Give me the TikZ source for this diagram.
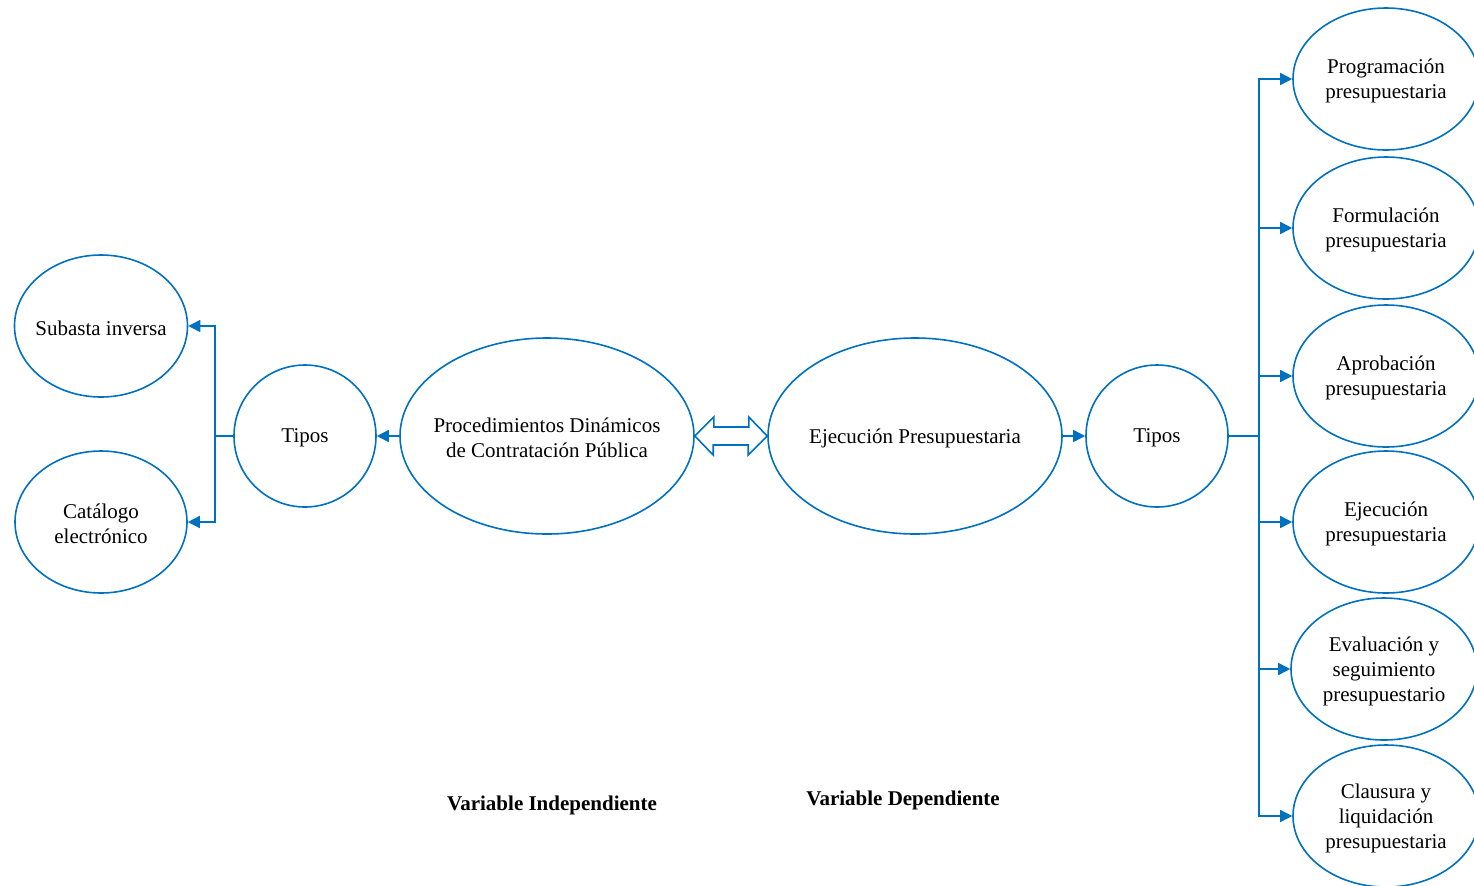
\documentclass[tikz,border=0pt]{standalone}
\usepackage{fontspec}
\setmainfont{Liberation Serif}
\usepackage{tikz}
\usetikzlibrary{arrows.meta,shapes.geometric,positioning,calc}
\usepackage{xcolor}
\definecolor{azul}{HTML}{0070C0}

\tikzset{
    elipse/.style={ellipse, draw=azul, line width=0.8pt, inner sep=0pt},
    texto/.style={align=center, yshift=-1pt, font=\fontsize{10.5}{12.5}\selectfont},
    linea/.style={draw=azul, line width=0.8pt},
    flecha/.style={linea, -{Triangle[length=6pt,width=6pt]}}
}

\begin{document}
\begin{tikzpicture}[x=0.5pt, y=-0.5pt]
    \clip (0,0) rectangle (1474,885);

    % Variable independiente
    \node[elipse, minimum width=86.5pt, minimum height=71pt,
          label={[texto]center:Subasta inversa}] (sub) at (101,326) {};
    \node[elipse, minimum width=86pt, minimum height=71pt,
          label={[texto]center:Catálogo\\electrónico}] (cat) at (101,522) {};
    \node[elipse, minimum width=71pt, minimum height=71pt,
          label={[texto]center:Tipos}] (tiposA) at (305,436) {};
    \node[elipse, minimum width=147pt, minimum height=98pt,
          label={[texto]center:Procedimientos Dinámicos\\de Contratación Pública}] (proc) at (547,436) {};

    % Variable dependiente
    \node[elipse, minimum width=147pt, minimum height=98pt,
          label={[texto]center:Ejecución Presupuestaria}] (ejec) at (915,436) {};
    \node[elipse, minimum width=71pt, minimum height=71pt,
          label={[texto]center:Tipos}] (tiposB) at (1157,436) {};

    % Tipos de ejecucion
    \node[elipse, minimum width=93pt, minimum height=71pt,
          label={[texto]center:Programación\\presupuestaria}] (prog) at (1386,79) {};
    \node[elipse, minimum width=93pt, minimum height=71pt,
          label={[texto]center:Formulación\\presupuestaria}] (form) at (1386,228) {};
    \node[elipse, minimum width=93pt, minimum height=71pt,
          label={[texto]center:Aprobación\\presupuestaria}] (apro) at (1386,376) {};
    \node[elipse, minimum width=93pt, minimum height=71pt,
          label={[texto]center:Ejecución\\presupuestaria}] (ejep) at (1386,522) {};
    \node[elipse, minimum width=93pt, minimum height=71pt,
          label={[texto]center:Evaluación y\\seguimiento\\presupuestario}] (eval) at (1384,669) {};
    \node[elipse, minimum width=93pt, minimum height=71pt,
          label={[texto]center:Clausura y\\liquidación\\presupuestaria}] (clau) at (1386,816) {};

    % Etiquetas
    \node[texto, font=\fontsize{10.5}{12.5}\selectfont\bfseries] (vind) at (552,803) {Variable Independiente};
    \node[texto, font=\fontsize{10.5}{12.5}\selectfont\bfseries] (vdep) at (903,798) {Variable Dependiente};

    % Conectores izquierda
    \draw[flecha] (proc.west) -- (tiposA.east);
    \draw[linea] (tiposA.west) -- ++(-18,0) coordinate (busA);
    \draw[flecha] (busA) |- (sub.east);
    \draw[flecha] (busA) |- (cat.east);

    % Doble flecha
    \draw[linea, line join=miter] (proc.east) -- ++(19,-19) -- ++(0,10) -- ++(35,0) -- ++(0,-10)
        -- (ejec.west) -- ++(-19,19) -- ++(0,-10) -- ++(-35,0) -- ++(0,10) -- cycle;

    % Conectores derecha
    \draw[flecha] (ejec.east) -- (tiposB.west);
    \draw[linea] (tiposB.east) -- ++(30,0) coordinate (busB);
    \foreach \n in {prog,form,apro,ejep,eval,clau}
        \draw[flecha] (busB) |- (\n.west);
\end{tikzpicture}
\end{document}
